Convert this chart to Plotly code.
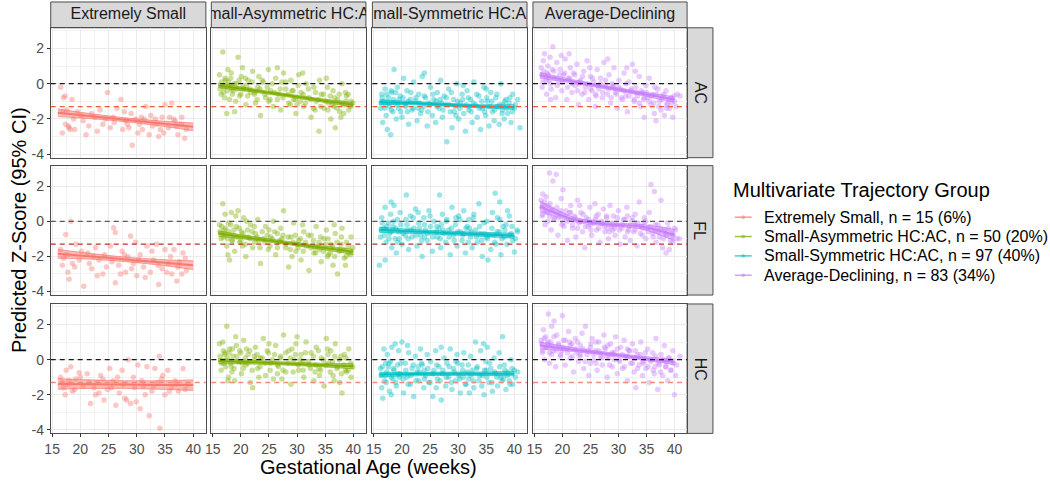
import plotly.graph_objects as go

W, H = 1050, 487
FONT = "Liberation Sans, Arial, sans-serif"

# strip labels as they appear (the two middle ones are clipped by their strips in the original)
STRIP_LABELS = ["Extremely Small", "mall-Asymmetric HC:A", "mall-Symmetric HC:A", "Average-Declining"]
MEASURES = ["AC", "FL", "HC"]
LEGEND_TITLE = "Multivariate Trajectory Group"
LEGEND_LABELS = ["Extremely Small, n = 15 (6%)", "Small-Asymmetric HC:AC, n = 50 (20%)",
                 "Small-Symmetric HC:AC, n = 97 (40%)", "Average-Declining, n = 83 (34%)"]
COLORS = ["#F8766D", "#7CAE00", "#00BFC4", "#C77CFF"]

X_TICKS = [15, 20, 25, 30, 35, 40]
X_MINOR = [17.5, 22.5, 27.5, 32.5, 37.5]
Y_TICKS = [-4, -2, 0, 2]
Y_TICKTEXT = ["-4", "-2", "0", "2"]
Y_MINOR = [-3, -1, 1, 3]
ZERO_LINE = 0
CUTOFF_LINE = -1.3

FIT_X = [16, 22, 28, 34, 40]

# ---------------- fitted lines (centre, half CI width) ----------------
ES_AC_FIT = [-1.65, -1.85, -2.05, -2.25, -2.45]; ES_AC_HW = [0.22, 0.14, 0.11, 0.14, 0.22]
SA_AC_FIT = [-0.1, -0.38, -0.65, -0.93, -1.2];   SA_AC_HW = [0.13, 0.09, 0.08, 0.09, 0.13]
SS_AC_FIT = [-1.05, -1.1, -1.2, -1.28, -1.32];   SS_AC_HW = [0.13, 0.09, 0.08, 0.09, 0.13]
AD_AC_FIT = [0.47, 0.12, -0.22, -0.56, -0.9];    AD_AC_HW = [0.16, 0.1, 0.09, 0.1, 0.16]
ES_FL_FIT = [-1.85, -2.0, -2.17, -2.33, -2.5];   ES_FL_HW = [0.25, 0.16, 0.13, 0.16, 0.25]
SA_FL_FIT = [-0.7, -0.96, -1.22, -1.48, -1.74];  SA_FL_HW = [0.15, 0.1, 0.09, 0.1, 0.15]
SS_FL_FIT = [-0.48, -0.58, -0.66, -0.74, -0.82]; SS_FL_HW = [0.15, 0.11, 0.1, 0.11, 0.14]
AD_FL_FIT = [0.85, 0.1, -0.17, -0.3, -0.78];     AD_FL_HW = [0.3, 0.13, 0.1, 0.13, 0.32]
ES_HC_FIT = [-1.38, -1.4, -1.42, -1.44, -1.45];  ES_HC_HW = [0.3, 0.24, 0.22, 0.24, 0.3]
SA_HC_FIT = [-0.08, -0.15, -0.22, -0.3, -0.37];  SA_HC_HW = [0.15, 0.1, 0.09, 0.1, 0.15]
SS_HC_FIT = [-0.85, -0.82, -0.8, -0.8, -0.8];    SS_HC_HW = [0.13, 0.1, 0.09, 0.1, 0.13]
AD_HC_FIT = [0.8, 0.57, 0.33, 0.1, -0.13];       AD_HC_HW = [0.2, 0.11, 0.09, 0.1, 0.16]

# ---------------- observed points (gestational age, z-score) ----------------
ES_AC_PTS = [(16.5,-0.2),(17.0,-0.8),(17.3,-0.7),(17.6,-1.5),(17.9,-2.4),(18.2,-2.6),(18.5,-0.9),(16.8,-2.8),(17.4,-2.3),(18.0,-2.5),
             (19.5,-1.6),(20.5,-2.1),(21.5,-2.4),(22.5,-1.9),(23.0,-2.7),(24.0,-2.3),(24.8,-0.5),(25.3,-2.5),(26.0,-2.2),(26.5,-1.4),
             (27.2,-0.9),(28.0,-2.1),(28.6,-2.5),(29.2,-3.5),(29.8,-2.0),(30.5,-2.3),(31.0,-2.6),(31.6,-1.3),(32.2,-2.9),(32.8,-2.4),
             (33.3,-2.0),(33.9,-3.0),(34.5,-1.9),(35.0,-1.2),(35.6,-2.5),(36.2,-1.1),(36.8,-2.1),(37.3,-2.9),(37.9,-2.3),(38.5,-3.1),
             (22.0,-1.7),(27.8,-1.6),(30.8,-1.9),(34.2,-2.6),(36.5,-2.0)]
ES_AC_PTS_B = [(16.9,-1.6),(18.8,-2.0),(20.1,-1.8),(21.0,-2.9),(23.5,-1.5),(25.8,-1.9),(27.5,-2.6),(29.0,-1.7),(30.2,-2.8),(31.3,-2.0),
               (32.5,-1.8),(33.6,-2.3),(34.8,-2.8),(35.8,-1.9),(37.0,-2.4),(38.0,-1.9),(38.8,-2.6),(19.0,-2.6),(24.5,-2.0),(28.3,-2.3)]

SA_AC_PTS = [(16.2,0.5),(16.5,-0.6),(16.8,1.8),(17.0,-0.2),(17.2,0.3),(17.5,-1.7),(17.8,0.1),(18.0,-0.9),(18.3,0.6),(18.6,-0.4),
             (18.9,-1.6),(19.2,0.0),(19.5,1.5),(19.8,-0.7),(20.1,0.4),(20.5,-0.3),(20.9,-1.2),(21.3,0.2),(21.7,-0.5),(22.1,0.7),
             (22.6,-1.1),(23.0,-0.2),(23.5,-1.8),(24.0,0.1),(24.4,-0.8),(24.9,0.8),(25.3,-0.4),(25.8,-1.3),(26.2,0.3),(26.7,-0.6),
             (27.1,-1.5),(27.6,0.6),(28.0,-0.3),(28.5,-1.1),(28.9,0.2),(29.4,-0.9),(29.8,-1.7),(30.3,0.5),(30.7,-0.5),(31.2,-1.3),
             (31.6,0.0),(32.1,-0.8),(32.5,-1.9),(33.0,-0.2),(33.4,-1.0),(33.9,-2.7),(34.3,-0.6),(34.8,-1.4),(35.2,0.3),(35.6,-1.1),
             (36.0,-2.0),(36.4,-0.4),(36.8,-2.5),(37.2,-0.9),(37.6,-1.6),(38.0,0.0),(38.4,-1.2),(38.8,-0.7),(39.2,-1.5),(39.6,-1.0),
             (17.1,-0.8),(18.4,-0.3),(19.1,-1.0),(20.3,0.9),(21.0,-0.1),(23.2,0.4),(25.0,-1.0),(27.3,0.1),(29.1,-0.4),(31.0,0.6),
             (33.2,-1.5),(35.4,-0.2),(36.6,-1.3),(37.8,-1.9),(38.6,-0.5),(17.7,0.8),(22.4,-0.6),(26.5,0.9),(30.0,-1.2),(34.0,0.2)]
SA_AC_PTS_B = [(16.3,-0.3),(16.6,0.1),(16.9,-0.5),(17.3,0.2),(17.6,-0.4),(17.9,-0.1),(18.2,0.3),(18.5,-0.6),(18.8,0.0),(19.3,-0.3),
               (19.7,0.2),(20.0,-0.6),(20.4,-0.2),(20.8,0.3),(21.2,-0.7),(21.6,-0.3),(22.0,0.1),(22.5,-0.5),(22.9,-0.9),(23.4,-0.3),
               (23.8,0.2),(24.3,-0.6),(24.7,-0.2),(25.2,-0.9),(25.6,0.0),(26.0,-0.5),(26.5,-0.9),(27.0,-0.3),(27.5,-0.8),(28.0,0.1),
               (28.4,-0.6),(28.8,-1.2),(29.3,-0.4),(29.7,-0.9),(30.2,-0.1),(30.6,-1.0),(31.1,-0.6),(31.5,-1.1),(32.0,-0.3),(32.4,-0.9),
               (32.9,-1.4),(33.3,-0.5),(33.8,-0.9),(34.2,-1.3),(34.7,-0.6),(35.1,-1.0),(35.5,-1.5),(35.9,-0.7),(36.3,-1.2),(36.7,-0.8),
               (37.1,-1.4),(37.5,-0.6),(37.9,-1.1),(38.3,-1.7),(38.7,-1.0),(39.1,-0.6),(39.5,-1.3),(39.9,-1.1)]

SS_AC_PTS = [(16.2,-1.4),(16.4,-0.6),(16.6,-2.2),(16.8,-1.0),(17.0,-0.3),(17.2,-1.8),(17.4,-2.6),(17.6,-0.8),(17.8,-1.3),(18.0,-2.9),
             (18.2,-0.5),(18.4,-1.6),(18.6,0.8),(18.8,-1.1),(19.0,-2.0),(19.2,-0.2),(19.4,-1.4),(19.7,-0.7),(20.0,-1.9),(20.3,0.3),
             (20.6,-1.2),(20.9,-0.4),(21.2,-2.3),(21.5,-0.9),(21.8,-1.5),(22.1,0.1),(22.4,-1.0),(22.7,-2.1),(23.0,-0.6),(23.3,-1.7),
             (23.6,0.4),(23.9,-1.3),(24.2,-0.8),(24.5,-2.4),(24.8,-1.1),(25.1,-0.2),(25.4,-1.8),(25.7,-0.9),(26.0,-2.2),(26.3,-0.5),
             (26.6,-1.4),(26.9,0.2),(27.2,-1.9),(27.5,-0.7),(27.8,-1.2),(28.0,-3.3),(28.3,-0.3),(28.6,-1.6),(28.9,-2.5),(29.2,-0.9),
             (29.5,-1.3),(29.8,0.0),(30.1,-2.0),(30.4,-1.1),(30.7,-0.6),(31.0,-1.7),(31.3,-2.7),(31.6,-0.4),(31.9,-1.5),(32.2,-0.9),
             (32.5,-2.2),(32.8,0.1),(33.1,-1.2),(33.4,-1.9),(33.7,-0.7),(34.0,-2.6),(34.3,-1.4),(34.6,-0.2),(34.9,-1.8),(35.2,-1.0),
             (35.5,-2.4),(35.8,-0.5),(36.1,-1.6),(36.4,-2.1),(36.7,-0.8),(37.0,-1.3),(37.3,-2.3),(37.6,0.0),(37.9,-1.5),(38.2,-2.0),
             (38.5,-0.9),(38.8,-1.7),(39.1,-1.1),(39.4,-2.2),(39.7,-0.6),(40.0,-1.4),(41.0,-2.5),(17.1,-1.2),(19.5,-0.9),(22.9,-1.4),
             (26.1,-1.0),(29.6,-1.8),(32.0,-1.3),(35.0,-0.3),(38.0,-1.2),(18.1,-0.4),(21.0,-1.6),(24.0,0.6),(27.0,-1.1),(30.9,-0.1)]
SS_AC_PTS_B = [(16.3,-1.1),(16.5,-0.8),(16.9,-1.4),(17.3,-0.6),(17.7,-1.1),(18.1,-1.5),(18.5,-0.9),(18.9,-0.5),(19.3,-1.2),(19.8,-1.6),
               (20.2,-0.8),(20.7,-1.3),(21.1,-1.0),(21.6,-0.5),(22.0,-1.4),(22.5,-0.8),(23.1,-1.1),(23.5,-1.5),(24.0,-0.7),(24.6,-1.6),
               (25.0,-1.2),(25.5,-0.6),(26.2,-1.3),(26.8,-0.9),(27.3,-1.5),(27.9,-0.8),(28.4,-1.2),(28.8,-0.5),(29.3,-1.6),(29.9,-1.0),
               (30.3,-1.4),(30.8,-0.9),(31.4,-1.2),(31.8,-0.8),(32.3,-1.6),(32.7,-1.1),(33.3,-0.6),(33.8,-1.4),(34.2,-1.0),(34.7,-1.6),
               (35.1,-0.8),(35.6,-1.3),(36.0,-1.0),(36.5,-1.5),(36.9,-0.6),(37.4,-1.2),(37.8,-1.7),(38.3,-1.0),(38.7,-1.4),(39.2,-0.8),
               (39.6,-1.6),(40.2,-1.2),(40.6,-0.9)]

AD_AC_PTS = [(16.2,0.9),(16.4,-0.2),(16.6,1.3),(16.8,1.7),(17.0,0.4),(17.2,-0.6),(17.4,1.0),(17.6,0.2),(17.8,1.5),(18.0,-0.3),
             (18.3,2.1),(18.5,0.7),(18.8,-0.8),(19.0,1.2),(19.3,0.1),(19.6,0.8),(19.9,-0.4),(20.2,0.5),(20.5,1.4),(20.8,-0.9),
             (21.1,0.3),(21.4,0.9),(21.7,-0.5),(22.0,0.6),(22.3,-0.1),(22.6,1.1),(22.9,-1.2),(23.2,0.2),(23.5,-0.6),(23.8,0.7),
             (24.1,-0.2),(24.4,1.3),(24.7,-0.9),(25.0,0.4),(25.3,-0.4),(25.6,0.1),(25.9,-1.3),(26.2,0.8),(26.5,-0.3),(26.8,0.3),
             (27.1,-0.8),(27.4,1.2),(27.7,-0.1),(28.0,-0.6),(28.3,0.5),(28.6,-1.1),(28.9,0.0),(29.2,0.9),(29.5,-0.5),(29.8,-1.4),
             (30.1,0.2),(30.4,-0.3),(30.7,-0.9),(31.0,0.6),(31.3,-0.7),(31.6,-1.6),(31.9,0.1),(32.2,-0.4),(32.5,1.1),(32.8,-1.0),
             (33.1,-0.2),(33.4,-0.7),(33.7,0.4),(34.0,-1.3),(34.3,-0.5),(34.6,-1.9),(34.9,-0.1),(35.2,-0.8),(35.5,0.3),(35.8,-1.2),
             (36.1,-0.6),(36.4,-1.7),(36.7,-2.1),(37.0,-0.3),(37.3,-1.0),(37.6,-1.5),(37.9,-0.7),(38.2,-1.8),(38.5,-0.4),(38.8,-1.1),
             (39.1,-1.4),(39.4,-0.8),(39.7,-1.9),(40.0,-1.0),(40.5,-0.6),(41.0,-0.7),(17.3,0.6),(19.8,1.6),(23.0,0.0),(26.0,-0.7),
             (29.0,-0.2),(31.5,0.9),(34.5,-0.9),(36.5,-0.2),(38.6,-1.2),(17.9,-0.9),(21.2,1.7),(24.9,0.9),(28.1,1.4),(33.0,0.7)]
AD_AC_PTS_B = [(16.3,0.5),(16.5,0.1),(16.7,0.7),(17.1,0.2),(17.5,0.5),(17.9,0.0),(18.2,0.8),(18.6,0.3),(19.1,-0.1),(19.5,0.5),
               (20.0,0.1),(20.4,0.6),(20.9,-0.2),(21.3,0.3),(21.8,0.0),(22.2,0.5),(22.7,-0.4),(23.1,0.1),(23.6,0.4),(24.0,-0.5),
               (24.5,0.0),(25.0,-0.3),(25.4,0.3),(25.9,-0.6),(26.3,-0.1),(26.8,0.0),(27.2,-0.5),(27.7,0.2),(28.2,-0.3),(28.7,-0.8),
               (29.1,-0.1),(29.6,-0.6),(30.0,-0.2),(30.5,-0.8),(31.0,-0.4),(31.4,0.0),(31.9,-0.7),(32.3,-0.3),(32.8,-0.9),(33.2,-0.5),
               (33.7,-1.1),(34.1,-0.4),(34.6,-0.8),(35.0,-0.5),(35.5,-1.0),(35.9,-0.7),(36.3,-1.1),(36.8,-0.6),(37.2,-1.3),(37.7,-0.9),
               (38.1,-0.6),(38.6,-1.4),(39.0,-0.9),(39.5,-1.1),(39.9,-0.7),(40.3,-1.3)]

ES_FL_PTS = [(16.5,-1.6),(17.0,-2.1),(17.4,-0.75),(17.8,-2.9),(18.0,-3.3),(18.3,0.0),(18.6,-2.4),(19.2,-1.3),(19.8,-2.2),(20.6,-3.7),
             (21.3,-1.8),(22.0,-2.7),(22.7,-1.5),(23.3,-2.2),(24.0,-3.0),(24.6,-2.6),(25.3,-1.4),(25.9,-0.37),(26.2,-0.64),(26.2,-3.5),
             (26.8,-2.5),(27.4,-1.7),(28.0,-2.9),(28.4,-2.0),(28.9,-0.83),(29.4,-2.4),(30.0,-3.1),(30.6,-1.9),(31.2,-2.6),(31.8,-1.4),
             (32.4,-2.9),(33.0,-2.2),(33.5,-1.3),(33.9,-3.6),(34.5,-2.7),(35.0,-1.6),(35.6,-2.4),(36.2,-3.0),(36.6,-1.6),(37.1,-3.4),
             (37.6,-2.3),(38.2,-1.8),(38.8,-2.8),(22.3,-2.0),(29.8,-1.2)]
ES_FL_PTS_B = [(16.8,-2.5),(17.6,-1.9),(19.0,-2.6),(20.2,-1.7),(21.6,-2.4),(23.0,-3.1),(24.3,-1.9),(25.6,-2.3),(27.1,-3.0),(27.8,-1.9),
               (29.1,-2.7),(30.3,-2.2),(31.5,-3.2),(32.7,-1.7),(33.8,-2.5),(35.3,-2.9),(36.0,-2.0),(37.3,-2.6),(38.0,-3.0),(38.6,-2.1)]

SA_FL_PTS = [(16.2,-0.2),(16.5,-1.0),(16.8,1.0),(17.0,-0.5),(17.2,0.4),(17.5,-1.4),(17.8,-0.1),(18.0,-2.2),(18.3,0.5),(18.6,-0.8),
             (18.9,-1.7),(19.2,-0.3),(19.5,0.6),(19.8,-1.2),(20.1,-0.6),(20.5,0.2),(20.9,-2.0),(21.3,-0.9),(21.7,-0.2),(22.1,-1.5),
             (22.6,-0.7),(23.0,0.1),(23.5,-2.4),(24.0,-1.0),(24.4,-0.3),(24.9,-1.6),(25.3,-0.9),(25.8,0.0),(26.2,-1.9),(26.7,-1.2),
             (27.1,-0.4),(27.6,0.6),(28.0,-1.5),(28.5,-2.6),(28.9,-0.9),(29.4,-0.1),(29.8,-1.7),(30.3,-1.1),(30.7,-2.2),(31.2,-0.6),
             (31.6,-1.4),(32.1,-2.8),(32.5,-0.8),(33.0,-1.8),(33.4,-0.3),(33.9,-1.2),(34.3,-2.3),(34.8,-1.0),(35.2,-0.5),(35.6,-1.9),
             (36.0,-1.3),(36.4,-2.5),(36.8,-0.7),(37.2,-3.0),(37.6,-1.6),(38.0,-0.4),(38.4,-2.1),(38.8,-1.2),(39.2,-1.8),(39.6,-0.9),
             (17.1,-0.7),(18.4,-1.1),(19.1,0.3),(20.3,-1.4),(21.0,0.0),(23.2,-1.1),(25.0,-0.5),(27.3,-1.0),(29.1,-2.0),(31.0,-0.2),
             (33.2,-1.5),(35.4,-2.0),(36.6,-0.2),(37.8,-1.3),(38.6,-2.5),(17.7,-1.9),(22.4,-0.3),(26.5,-0.7),(30.0,-1.3),(34.0,-1.6)]
SA_FL_PTS_B = [(16.3,-0.6),(16.6,-0.3),(16.9,-0.9),(17.3,-0.4),(17.6,-1.0),(17.9,-0.6),(18.2,-0.2),(18.5,-1.1),(18.8,-0.5),(19.3,-0.9),
               (19.7,-0.4),(20.0,-1.1),(20.4,-0.7),(20.8,-1.3),(21.2,-0.5),(21.6,-1.0),(22.0,-0.6),(22.5,-1.2),(22.9,-0.9),(23.4,-1.5),
               (23.8,-0.6),(24.3,-1.2),(24.7,-0.8),(25.2,-1.4),(25.6,-1.0),(26.0,-0.6),(26.5,-1.5),(27.0,-1.1),(27.5,-0.8),(28.0,-1.3),
               (28.4,-0.9),(28.8,-1.6),(29.3,-1.2),(29.7,-0.8),(30.2,-1.5),(30.6,-1.0),(31.1,-1.7),(31.5,-1.2),(32.0,-0.8),(32.4,-1.5),
               (32.9,-1.1),(33.3,-1.8),(33.8,-1.4),(34.2,-0.9),(34.7,-1.7),(35.1,-1.3),(35.5,-1.0),(35.9,-1.8),(36.3,-1.4),(36.7,-2.0),
               (37.1,-1.2),(37.5,-1.7),(37.9,-0.9),(38.3,-1.6),(38.7,-2.0),(39.1,-1.4),(39.5,-1.9),(39.9,-1.5)]

SS_FL_PTS = [(16.2,-0.9),(16.4,0.2),(16.0,-2.5),(16.8,-0.4),(17.0,0.8),(17.2,-1.2),(17.0,-2.2),(17.6,-0.1),(17.8,-0.7),(18.0,0.4),
             (18.2,-1.5),(18.4,-0.3),(18.6,0.9),(18.8,-1.0),(19.0,-1.8),(19.2,0.1),(19.4,-0.6),(19.7,0.5),(20.0,-1.3),(20.8,1.5),
             (20.6,-0.8),(20.9,-0.2),(21.2,-1.6),(21.5,0.3),(21.8,-0.9),(22.1,-0.4),(22.4,0.7),(22.7,-1.4),(23.0,-0.1),(23.3,-0.8),
             (23.6,-2.0),(23.9,0.2),(24.2,-0.5),(24.5,-1.1),(24.8,0.6),(25.1,-0.3),(25.4,-1.7),(25.7,0.0),(26.7,1.5),(26.3,-0.9),
             (26.6,-0.4),(26.9,-1.5),(27.2,0.4),(27.5,-0.7),(27.8,-1.2),(28.0,0.1),(28.3,-0.5),(28.6,-1.9),(28.9,0.8),(29.2,-0.8),
             (29.5,-0.2),(29.8,-1.4),(30.1,0.3),(30.4,-0.6),(30.7,-1.1),(31.0,0.6),(31.3,-1.8),(31.6,-0.3),(31.9,0.1),(32.2,-0.9),
             (32.5,-1.5),(32.8,0.4),(33.1,-0.5),(33.4,-1.2),(33.7,1.0),(34.0,-0.7),(34.3,-2.0),(34.6,-0.1),(36.6,1.6),(35.2,-1.0),
             (35.3,-2.2),(35.8,-1.6),(36.1,0.5),(36.4,-0.8),(36.7,-1.3),(37.0,0.2),(37.3,-0.6),(37.6,-1.9),(37.4,1.1),(38.2,-0.9),
             (38.5,-0.2),(38.8,0.6),(39.1,0.3),(39.4,-0.7),(39.7,-1.1),(40.0,-1.75),(40.5,-0.5),(17.1,-0.5),(19.5,-1.0),(22.9,0.5),
             (26.1,-0.6),(29.6,0.2),(32.0,-0.4),(35.0,-0.9),(38.0,-0.3),(18.1,1.1),(21.0,-0.5),(24.0,-0.9),(27.0,-0.2),(30.9,-0.7)]
SS_FL_PTS_B = [(16.3,-0.5),(16.5,-0.1),(16.9,-0.8),(17.3,-0.3),(17.7,-1.0),(18.1,-0.6),(18.5,0.0),(18.9,-0.4),(19.3,-1.2),(19.8,-0.2),
               (20.2,-0.7),(20.7,0.1),(21.1,-1.0),(21.6,-0.5),(22.0,0.2),(22.5,-0.8),(23.1,-0.4),(23.5,-1.1),(24.0,-0.2),(24.6,-0.7),
               (25.0,0.3),(25.5,-0.9),(26.2,-0.3),(26.8,-1.0),(27.3,-0.5),(27.9,0.0),(28.4,-0.9),(28.8,-0.4),(29.3,-1.1),(29.9,-0.6),
               (30.3,0.1),(30.8,-0.8),(31.4,-0.4),(31.8,-1.2),(32.3,-0.6),(32.7,0.2),(33.3,-0.9),(33.8,-0.3),(34.2,-1.1),(34.7,-0.7),
               (35.1,0.0),(35.6,-0.8),(36.0,-0.4),(36.5,-1.2),(36.9,-0.6),(37.4,0.1),(37.8,-1.0),(38.3,-0.5),(38.7,-1.3),(39.2,-0.8),
               (39.6,-0.3),(40.2,-1.0),(40.6,-0.6)]

AD_FL_PTS = [(16.2,1.2),(16.4,0.3),(16.5,1.56),(16.7,0.9),(16.9,-0.2),(17.1,1.4),(17.3,0.5),(17.7,2.75),(17.8,1.0),(18.0,-0.5),
             (18.3,2.3),(18.5,0.2),(18.9,2.66),(19.0,0.8),(19.2,-0.8),(19.5,0.4),(19.8,1.3),(20.1,1.8),(20.3,-0.3),(20.6,0.6),
             (20.9,-1.1),(21.2,0.1),(21.5,0.9),(21.8,-0.4),(22.1,0.3),(22.4,-0.9),(22.7,1.2),(23.0,-0.1),(23.3,0.5),(23.6,-0.6),
             (24.0,-1.5),(24.3,0.2),(24.6,-0.3),(24.9,0.8),(25.2,-0.8),(25.5,0.0),(25.8,1.0),(26.1,-0.5),(26.4,0.4),(26.7,-1.2),
             (27.0,-0.1),(27.3,0.7),(27.6,-0.6),(27.9,0.2),(28.2,-1.0),(28.5,0.9),(28.8,-0.3),(29.1,0.3),(29.4,-0.8),(29.7,-0.2),
             (30.0,0.6),(30.3,-1.3),(30.6,-0.4),(30.9,0.1),(31.2,-0.9),(31.5,0.8),(31.8,-0.5),(32.1,-1.1),(32.4,0.0),(32.7,-0.6),
             (33.0,0.4),(33.3,-1.4),(33.7,1.1),(34.0,-0.3),(34.3,-0.8),(34.6,0.2),(34.9,-1.0),(35.2,-0.4),(35.5,0.5),(35.8,2.1),
             (36.1,-0.7),(36.4,1.7),(36.7,-1.2),(37.0,-0.2),(37.3,-0.9),(37.6,1.2),(37.9,-1.5),(38.2,-0.5),(38.5,-1.8),(38.8,-0.1),
             (39.1,-1.6),(39.4,-0.7),(39.7,-1.2),(40.0,-0.4),(40.4,-1.0),(40.9,-1.0),(17.4,0.0),(19.9,-0.2),(23.1,0.9),(26.0,0.1),
             (29.0,-0.5),(31.6,0.3),(34.5,-0.1),(36.5,-0.5),(38.6,-0.8),(18.1,0.6),(21.3,0.5),(25.0,-0.2),(28.1,-0.4),(33.0,-0.2)]
AD_FL_PTS_B = [(16.3,0.8),(16.5,0.4),(16.8,1.1),(17.0,0.6),(17.4,0.9),(17.7,0.3),(18.1,0.7),(18.5,0.1),(18.9,0.5),(19.3,0.2),
               (19.7,0.6),(20.1,-0.1),(20.5,0.3),(20.9,0.0),(21.4,0.5),(21.8,-0.2),(22.3,0.2),(22.7,-0.4),(23.2,0.0),(23.7,0.4),
               (24.1,-0.3),(24.6,0.1),(25.1,-0.5),(25.6,-0.1),(26.0,0.3),(26.5,-0.4),(27.0,0.0),(27.5,-0.3),(27.9,0.3),(28.4,-0.6),
               (28.9,-0.1),(29.3,-0.4),(29.8,0.2),(30.2,-0.5),(30.7,-0.2),(31.1,0.1),(31.6,-0.6),(32.0,-0.3),(32.5,0.2),(33.0,-0.5),
               (33.4,-0.1),(33.9,-0.7),(34.3,-0.4),(34.8,0.0),(35.3,-0.6),(35.7,-0.3),(36.2,-0.9),(36.6,-0.2),(37.1,-0.6),(37.5,-0.4),
               (38.0,-1.0),(38.4,-0.7),(38.9,-0.4),(39.3,-1.1),(39.8,-0.8),(40.2,-0.5)]

ES_HC_PTS = [(16.5,-1.0),(17.0,-1.6),(17.5,-0.6),(17.8,-1.4),(18.3,-0.4),(18.6,-1.8),(19.2,-1.1),(19.8,-0.75),(20.5,-1.5),(21.2,-0.8),
             (21.8,-2.5),(22.4,-1.6),(23.0,-1.3),(23.6,-0.9),(24.2,-2.3),(24.8,-1.7),(25.2,-0.5),(25.8,-1.2),(26.3,-2.6),(26.9,-1.9),
             (27.4,-0.6),(27.9,-2.2),(28.5,0.0),(28.9,-2.5),(29.4,-1.0),(29.9,-2.4),(30.2,-0.3),(30.6,-2.8),(31.2,-1.5),(31.8,-0.4),
             (32.2,-3.2),(32.7,-1.8),(33.2,-0.5),(33.7,-1.3),(34.0,0.2),(34.1,-3.9),(34.6,-0.9),(35.0,-2.0),(35.5,-0.6),(36.2,-1.6),
             (36.8,-1.2),(37.4,-1.8),(38.2,-0.5),(39.0,-1.4),(23.3,-1.9)]
ES_HC_PTS_B = [(16.8,-1.3),(17.3,-2.0),(18.0,-1.2),(19.0,-1.7),(20.0,-1.0),(21.5,-1.3),(22.7,-2.0),(24.0,-1.1),(25.5,-1.6),(26.6,-1.0),
               (27.6,-1.4),(28.2,-2.3),(29.6,-1.6),(30.9,-1.2),(31.5,-2.0),(33.0,-1.5),(34.4,-1.1),(35.8,-1.8),(37.0,-1.4),(38.6,-1.7)]

SA_HC_PTS = [(16.2,0.9),(16.5,-0.6),(16.8,1.0),(17.0,-0.2),(17.2,0.4),(17.5,1.9),(17.8,-1.0),(18.0,0.6),(18.3,-0.4),(18.6,0.2),
             (18.9,-1.2),(19.2,0.8),(19.5,-0.1),(19.8,0.5),(20.1,-0.8),(20.5,1.1),(20.9,-0.3),(21.3,0.3),(21.7,-1.3),(22.1,-1.6),
             (22.6,0.7),(23.0,-0.5),(23.5,0.1),(24.0,1.2),(24.4,-0.9),(24.9,0.4),(25.3,-0.2),(25.8,-1.1),(26.2,0.8),(26.7,-0.4),
             (27.1,0.2),(27.6,1.4),(28.0,-0.7),(28.5,0.5),(28.9,-1.4),(29.4,0.0),(29.8,0.9),(30.3,-0.6),(30.7,0.3),(31.2,-1.0),
             (31.6,1.0),(32.1,-0.3),(32.5,0.4),(33.0,-1.2),(33.4,0.7),(33.9,-0.5),(34.3,0.1),(34.8,-1.5),(35.2,1.2),(35.6,-0.2),
             (36.0,0.5),(36.4,-0.9),(36.8,0.9),(37.2,-0.4),(37.6,-1.3),(38.0,-1.9),(38.4,0.3),(38.8,-0.7),(39.2,0.6),(39.6,-1.0),
             (17.1,0.3),(18.4,-0.7),(19.1,1.3),(20.3,-0.2),(21.0,0.6),(23.2,-1.0),(25.0,0.9),(27.3,-1.1),(29.1,0.6),(31.0,-0.1),
             (33.2,-0.7),(35.4,0.6),(36.6,-1.2),(37.8,0.2),(38.6,-0.6),(17.7,-1.2),(22.4,0.2),(26.5,-0.8),(30.0,1.3),(34.0,-0.9)]
SA_HC_PTS_B = [(16.3,0.2),(16.6,-0.2),(16.9,0.5),(17.3,-0.4),(17.6,0.1),(17.9,0.4),(18.2,-0.2),(18.5,0.6),(18.8,-0.5),(19.3,0.2),
               (19.7,-0.1),(20.0,0.4),(20.4,-0.5),(20.8,0.1),(21.2,-0.2),(21.6,0.5),(22.0,-0.6),(22.5,0.0),(22.9,0.3),(23.4,-0.4),
               (23.8,0.1),(24.3,-0.2),(24.7,0.5),(25.2,-0.6),(25.6,0.0),(26.0,0.3),(26.5,-0.3),(27.0,0.1),(27.5,-0.6),(28.0,0.4),
               (28.4,-0.2),(28.8,0.1),(29.3,-0.7),(29.7,0.3),(30.2,-0.3),(30.6,0.0),(31.1,-0.6),(31.5,0.4),(32.0,-0.1),(32.4,-0.5),
               (32.9,0.2),(33.3,-0.3),(33.8,0.5),(34.2,-0.6),(34.7,0.0),(35.1,-0.3),(35.5,0.3),(35.9,-0.7),(36.3,-0.1),(36.7,0.2),
               (37.1,-0.5),(37.5,0.0),(37.9,-0.8),(38.3,-0.3),(38.7,0.1),(39.1,-0.6),(39.5,-0.2),(39.9,-0.4)]

SS_HC_PTS = [(16.2,-0.5),(16.4,-1.6),(16.6,-2.2),(16.8,0.6),(17.0,-0.9),(17.2,-1.3),(17.4,0.3),(17.6,-0.4),(17.8,-1.8),(18.0,-0.1),
             (18.2,0.7),(18.4,-1.1),(18.6,-0.6),(18.8,0.9),(19.0,-1.5),(19.2,-0.3),(19.4,0.5),(19.7,-0.8),(20.0,1.0),(20.3,-1.9),
             (20.6,-0.2),(20.9,-1.0),(21.2,0.4),(21.5,-1.4),(21.8,-0.5),(22.1,-2.1),(22.4,0.2),(22.7,-0.7),(23.0,-1.2),(23.3,0.6),
             (23.6,-0.3),(23.9,-1.6),(24.2,-0.9),(24.5,0.3),(24.8,-1.3),(25.1,-0.1),(25.5,-2.1),(25.7,-0.6),(26.0,0.5),(26.3,-1.1),
             (26.6,-0.4),(27.0,-2.3),(27.2,-0.8),(27.5,0.1),(27.8,-1.5),(28.0,-0.2),(28.3,-1.0),(28.6,0.6),(28.9,-1.7),(29.2,-0.5),
             (29.5,-1.2),(29.8,0.3),(30.1,-0.9),(30.4,-1.9),(30.7,-0.3),(31.0,0.4),(31.3,-1.4),(31.6,-0.7),(31.9,-1.1),(32.2,0.2),
             (32.5,-0.6),(32.8,-1.6),(33.1,1.0),(33.4,-0.4),(33.7,-1.2),(34.0,0.5),(34.3,-0.9),(34.6,-2.0),(34.9,-0.1),(35.2,0.7),
             (35.5,-1.3),(35.8,-0.5),(36.1,-1.8),(36.4,0.1),(36.7,-0.8),(37.0,-1.5),(37.3,0.4),(37.6,-1.0),(37.9,1.3),(38.2,-0.3),
             (38.5,-1.7),(38.8,-0.7),(39.1,-1.2),(39.4,0.0),(39.7,-1.4),(40.0,-0.6),(17.1,-0.2),(19.5,-1.0),(22.9,-0.4),(26.1,-1.6),
             (29.6,-0.1),(32.0,-1.9),(35.0,-0.6),(38.0,-1.1),(18.1,-2.0),(21.0,0.8),(24.0,-0.6),(27.0,0.7),(30.9,-1.0),(34.5,0.9)]
SS_HC_PTS_B = [(16.3,-0.9),(16.5,-0.4),(16.9,-1.2),(17.3,-0.7),(17.7,-0.2),(18.1,-1.0),(18.5,-0.5),(18.9,-1.3),(19.3,-0.8),(19.8,-0.2),
               (20.2,-1.1),(20.7,-0.6),(21.1,-1.4),(21.6,-0.9),(22.0,-0.3),(22.5,-1.2),(23.1,-0.7),(23.5,-0.2),(24.0,-1.1),(24.6,-0.5),
               (25.0,-1.3),(25.5,-0.8),(26.2,-0.3),(26.8,-1.2),(27.3,-0.6),(27.9,-1.0),(28.4,-0.4),(28.8,-1.3),(29.3,-0.7),(29.9,-0.2),
               (30.3,-1.1),(30.8,-0.6),(31.4,-1.4),(31.8,-0.3),(32.3,-0.9),(32.7,-1.2),(33.3,-0.5),(33.8,-0.9),(34.2,-1.5),(34.7,-0.6),
               (35.1,-1.0),(35.6,-0.2),(36.0,-1.3),(36.5,-0.7),(36.9,-1.0),(37.4,-0.4),(37.8,-1.2),(38.3,-0.6),(38.7,-0.9),(39.2,-1.4),
               (39.6,-0.5),(40.2,-1.0),(40.6,-0.7)]

AD_HC_PTS = [(16.2,1.1),(16.4,0.4),(16.6,1.7),(16.8,0.0),(17.0,1.3),(17.2,0.7),(17.5,2.6),(17.7,-0.2),(17.9,1.0),(18.1,1.9),
             (18.3,0.5),(18.5,2.2),(18.8,-0.4),(19.0,1.4),(19.3,0.8),(19.6,0.2),(20.0,2.5),(20.2,1.1),(20.5,-0.3),(20.8,0.6),
             (21.1,1.6),(21.4,0.1),(21.7,0.9),(22.0,-0.7),(22.3,1.2),(22.6,0.4),(22.9,-0.1),(23.2,0.8),(23.5,1.5),(23.8,-0.5),
             (24.1,1.9),(24.4,0.3),(24.7,-0.9),(25.0,0.7),(25.3,1.2),(25.6,0.0),(25.9,0.5),(26.2,-0.6),(26.5,1.0),(26.8,0.2),
             (27.1,-0.3),(27.4,1.4),(27.7,0.6),(28.0,-1.0),(28.3,0.1),(28.6,0.9),(28.9,-0.4),(29.2,0.4),(29.5,1.3),(29.8,-0.8),
             (30.1,0.0),(30.4,0.7),(30.7,-0.5),(31.0,1.1),(31.3,0.2),(31.6,-1.2),(31.9,0.5),(32.2,-0.2),(32.5,0.9),(32.8,-0.7),
             (33.1,-1.6),(33.4,0.3),(33.7,-0.3),(34.0,1.0),(34.3,-0.9),(34.6,0.1),(34.9,-0.5),(35.2,0.6),(35.5,-1.3),(35.8,-0.1),
             (36.1,0.4),(36.4,-0.8),(36.7,1.2),(37.0,-1.7),(37.3,-0.3),(37.6,0.3),(37.9,-0.9),(38.2,0.8),(38.5,-0.4),(38.8,-1.2),
             (39.1,0.1),(39.4,-0.6),(39.7,0.5),(40.0,-2.0),(40.4,-0.3),(41.0,0.2),(17.4,0.9),(19.9,0.5),(23.1,0.2),(26.0,1.0),
             (29.0,0.3),(31.6,0.6),(34.5,-0.2),(36.5,-0.4),(38.6,-0.1),(18.1,0.3),(21.3,1.0),(25.0,-0.2),(28.1,0.8),(33.0,0.5)]
AD_HC_PTS_B = [(16.3,0.9),(16.5,0.5),(16.8,1.2),(17.0,0.7),(17.4,1.0),(17.7,0.4),(18.1,0.8),(18.5,1.3),(18.9,0.5),(19.3,0.9),
               (19.7,0.3),(20.1,0.7),(20.5,1.1),(20.9,0.4),(21.4,0.8),(21.8,0.2),(22.3,0.6),(22.7,1.0),(23.2,0.3),(23.7,0.6),
               (24.1,-0.1),(24.6,0.5),(25.1,0.9),(25.6,0.3),(26.0,-0.2),(26.5,0.5),(27.0,0.1),(27.5,0.7),(27.9,0.2),(28.4,-0.3),
               (28.9,0.4),(29.3,0.0),(29.8,0.6),(30.2,-0.1),(30.7,0.3),(31.1,-0.4),(31.6,0.2),(32.0,0.5),(32.5,-0.2),(33.0,0.1),
               (33.4,-0.5),(33.9,0.3),(34.3,-0.1),(34.8,0.4),(35.3,-0.4),(35.7,0.0),(36.2,-0.6),(36.6,0.2),(37.1,-0.2),(37.5,-0.7),
               (38.0,0.0),(38.4,-0.4),(38.9,0.1),(39.3,-0.6),(39.8,-0.2),(40.2,-0.9)]

PANELS = [
    [(ES_AC_PTS + ES_AC_PTS_B, ES_AC_FIT, ES_AC_HW), (SA_AC_PTS + SA_AC_PTS_B, SA_AC_FIT, SA_AC_HW),
     (SS_AC_PTS + SS_AC_PTS_B, SS_AC_FIT, SS_AC_HW), (AD_AC_PTS + AD_AC_PTS_B, AD_AC_FIT, AD_AC_HW)],
    [(ES_FL_PTS + ES_FL_PTS_B, ES_FL_FIT, ES_FL_HW), (SA_FL_PTS + SA_FL_PTS_B, SA_FL_FIT, SA_FL_HW),
     (SS_FL_PTS + SS_FL_PTS_B, SS_FL_FIT, SS_FL_HW), (AD_FL_PTS + AD_FL_PTS_B, AD_FL_FIT, AD_FL_HW)],
    [(ES_HC_PTS + ES_HC_PTS_B, ES_HC_FIT, ES_HC_HW), (SA_HC_PTS + SA_HC_PTS_B, SA_HC_FIT, SA_HC_HW),
     (SS_HC_PTS + SS_HC_PTS_B, SS_HC_FIT, SS_HC_HW), (AD_HC_PTS + AD_HC_PTS_B, AD_HC_FIT, AD_HC_HW)],
]

# ---------------- layout geometry (pixels) ----------------
COL_PX = [(45, 201), (206.5, 362), (368.5, 524), (530, 685)]
ROW_PX = [(28, 159), (167, 297.5), (306.5, 437)]
TOP_STRIP_PX = (2, 28)
RIGHT_STRIP_PX = (685, 711)
X_RANGE = [14.75, 42.25]
Y_RANGE = [-4.2, 3.17]
BLACK_DASH = ["#1A1A1A", "#5A5A5A", "#1A1A1A"]
RED_DASH = ["#EF5B3B", "#C2312A", "#F28B78"]
BORDER = "#4D4D4D"
GRID = "#EBEBEB"
STRIP_FILL = "#D9D9D9"


def px_x(p):
    return p / W


def px_y(p):
    return 1 - p / H


def rgba(hexc, a):
    h = hexc.lstrip("#")
    return "rgba(%d,%d,%d,%.3f)" % (int(h[0:2], 16), int(h[2:4], 16), int(h[4:6], 16), a)


fig = go.Figure()
shapes = []
annotations = []
layout_axes = {}

for r in range(3):
    for c in range(4):
        k = r * 4 + c + 1
        xid = "x" if k == 1 else "x%d" % k
        yid = "y" if k == 1 else "y%d" % k
        pts, fit, hw = PANELS[r][c]
        col = COLORS[c]
        xs = [p[0] for p in pts]
        ys = [p[1] for p in pts]
        fig.add_trace(go.Scatter(x=xs, y=ys, mode="markers", xaxis=xid, yaxis=yid,
                                 marker=dict(size=5.5, color=rgba(col, 0.4), line=dict(width=0)),
                                 showlegend=False, hoverinfo="skip"))
        upper = [f + h for f, h in zip(fit, hw)]
        lower = [f - h for f, h in zip(fit, hw)]
        fig.add_trace(go.Scatter(x=FIT_X + FIT_X[::-1], y=upper + lower[::-1], mode="lines",
                                 fill="toself", fillcolor=rgba(col, 0.5), line=dict(width=0),
                                 xaxis=xid, yaxis=yid, showlegend=False, hoverinfo="skip"))
        for edge in (upper, lower):
            fig.add_trace(go.Scatter(x=FIT_X, y=edge, mode="lines", line=dict(color=rgba(col, 0.8), width=0.8, shape="spline"),
                                     xaxis=xid, yaxis=yid, showlegend=False, hoverinfo="skip"))
        fig.add_trace(go.Scatter(x=FIT_X, y=fit, mode="lines", line=dict(color=rgba(col, 0.95), width=2, shape="spline"),
                                 xaxis=xid, yaxis=yid, showlegend=False, hoverinfo="skip"))

        cx0, cx1 = COL_PX[c]
        ry0, ry1 = ROW_PX[r]
        bottom = (r == 2)
        left = (c == 0)
        layout_axes["xaxis" if k == 1 else "xaxis%d" % k] = dict(
            domain=[px_x(cx0), px_x(cx1)], range=X_RANGE, anchor=yid,
            tickmode="array", tickvals=X_TICKS, showticklabels=bottom,
            ticks="outside" if bottom else "", ticklen=3, tickwidth=1, tickcolor="#333333",
            tickfont=dict(family=FONT, size=14, color="#4D4D4D"),
            showgrid=True, gridcolor=GRID, gridwidth=1,
            minor=dict(tickmode="array", tickvals=X_MINOR, showgrid=True, gridcolor="#F2F2F2", gridwidth=0.7, ticks=""),
            showline=True, mirror=True, linecolor=BORDER, linewidth=1, zeroline=False, fixedrange=True)
        layout_axes["yaxis" if k == 1 else "yaxis%d" % k] = dict(
            domain=[px_y(ry1), px_y(ry0)], range=Y_RANGE, anchor=xid,
            tickmode="array", tickvals=Y_TICKS, ticktext=Y_TICKTEXT, showticklabels=left,
            ticks="outside" if left else "", ticklen=3, tickwidth=1, tickcolor="#333333",
            tickfont=dict(family=FONT, size=14, color="#4D4D4D"),
            showgrid=True, gridcolor=GRID, gridwidth=1,
            minor=dict(tickmode="array", tickvals=Y_MINOR, showgrid=True, gridcolor="#F2F2F2", gridwidth=0.7, ticks=""),
            showline=True, mirror=True, linecolor=BORDER, linewidth=1, zeroline=False, fixedrange=True)

        shapes.append(dict(type="line", xref="%s domain" % xid, yref=yid, x0=0, x1=1, y0=ZERO_LINE, y1=ZERO_LINE,
                           line=dict(color=BLACK_DASH[r], width=1.3, dash="5px,4px"), layer="above"))
        shapes.append(dict(type="line", xref="%s domain" % xid, yref=yid, x0=0, x1=1, y0=CUTOFF_LINE, y1=CUTOFF_LINE,
                           line=dict(color=RED_DASH[r], width=1.3, dash="5px,4px"), layer="above"))

# ---------------- column strips (text clipped to the strip, as in ggplot) ----------------
for c in range(4):
    k = 13 + c
    xid, yid = "x%d" % k, "y%d" % k
    cx0, cx1 = COL_PX[c]
    shapes.append(dict(type="rect", xref="paper", yref="paper", x0=px_x(cx0), x1=px_x(cx1),
                       y0=px_y(TOP_STRIP_PX[1]), y1=px_y(TOP_STRIP_PX[0]),
                       fillcolor=STRIP_FILL, line=dict(color=BORDER, width=1), layer="below"))
    layout_axes["xaxis%d" % k] = dict(domain=[px_x(cx0), px_x(cx1)], range=[0, 1], anchor=yid, visible=False, fixedrange=True)
    layout_axes["yaxis%d" % k] = dict(domain=[px_y(TOP_STRIP_PX[1]), px_y(TOP_STRIP_PX[0])], range=[0, 1], anchor=xid,
                                      visible=False, fixedrange=True)
    fig.add_trace(go.Scatter(x=[0.5], y=[0.48], mode="text", text=[STRIP_LABELS[c]], textposition="middle center",
                             textfont=dict(family=FONT, size=16, color="#1A1A1A"), cliponaxis=True,
                             xaxis=xid, yaxis=yid, showlegend=False, hoverinfo="skip"))

# ---------------- row strips ----------------
for r in range(3):
    ry0, ry1 = ROW_PX[r]
    shapes.append(dict(type="rect", xref="paper", yref="paper", x0=px_x(RIGHT_STRIP_PX[0]), x1=px_x(RIGHT_STRIP_PX[1]),
                       y0=px_y(ry1), y1=px_y(ry0), fillcolor=STRIP_FILL, line=dict(color=BORDER, width=1), layer="below"))
    annotations.append(dict(xref="paper", yref="paper", x=px_x((RIGHT_STRIP_PX[0] + RIGHT_STRIP_PX[1]) / 2),
                            y=px_y((ry0 + ry1) / 2), text=MEASURES[r], showarrow=False, textangle=90,
                            font=dict(family=FONT, size=16, color="#1A1A1A"), xanchor="center", yanchor="middle"))

# ---------------- axis titles ----------------
annotations.append(dict(xref="paper", yref="paper", x=px_x(365), y=px_y(471), text="Gestational Age (weeks)",
                        showarrow=False, font=dict(family=FONT, size=20, color="#000000"), xanchor="center", yanchor="middle"))
annotations.append(dict(xref="paper", yref="paper", x=px_x(13), y=px_y(232), text="Predicted Z-Score (95% CI)",
                        showarrow=False, textangle=-90, font=dict(family=FONT, size=20, color="#000000"),
                        xanchor="center", yanchor="middle"))

# ---------------- legend (drawn like ggplot's) ----------------
LEG_TITLE_Y = 192
LEG_ENTRY_Y = [219, 238.5, 258, 277.5]
annotations.append(dict(xref="paper", yref="paper", x=px_x(729), y=px_y(LEG_TITLE_Y), text=LEGEND_TITLE,
                        showarrow=False, font=dict(family=FONT, size=20, color="#000000"), xanchor="left", yanchor="middle"))
for i, lab in enumerate(LEGEND_LABELS):
    yy = LEG_ENTRY_Y[i]
    annotations.append(dict(xref="paper", yref="paper", x=px_x(760), y=px_y(yy), text=lab, showarrow=False,
                            font=dict(family=FONT, size=16, color="#000000"), xanchor="left", yanchor="middle"))
    shapes.append(dict(type="line", xref="paper", yref="paper", x0=px_x(733), x1=px_x(750), y0=px_y(yy), y1=px_y(yy),
                       line=dict(color=rgba(COLORS[i], 0.75), width=1.5)))
    shapes.append(dict(type="circle", xref="paper", yref="paper", x0=px_x(739.5), x1=px_x(743.5),
                       y0=px_y(yy + 2), y1=px_y(yy - 2), fillcolor=rgba(COLORS[i], 0.45), line=dict(width=0)))

fig.update_layout(width=W, height=H, margin=dict(l=0, r=0, t=0, b=0), autosize=False,
                  paper_bgcolor="#FFFFFF", plot_bgcolor="rgba(0,0,0,0)", showlegend=False,
                  shapes=shapes, annotations=annotations, font=dict(family=FONT), **layout_axes)

fig.write_html("out.html", config={"displayModeBar": False},
               post_script="document.body.style.margin='0';document.body.style.padding='0';")
